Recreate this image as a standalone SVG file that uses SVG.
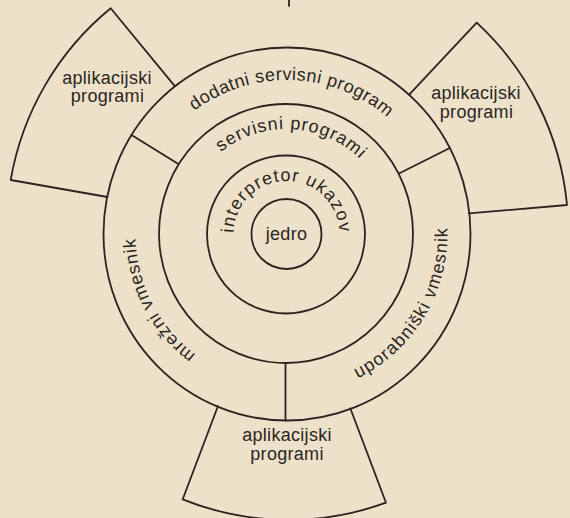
<svg xmlns="http://www.w3.org/2000/svg" width="570" height="518" viewBox="0 0 570 518">
  <style>
    .ln { fill: none; stroke: #2b2420; stroke-width: 1.8; stroke-linejoin: round; stroke-linecap: round; }
    .tx { font-family: "Liberation Sans", Arial, sans-serif; font-size: 18px; fill: #2b2622; }
    .c { text-anchor: middle; letter-spacing: 0.3px; }
  </style>
  <defs>
    <path id="p-dodatni" d="M153.63,157 A154,154 0 0 1 425.41,166.49"/>
    <path id="p-servisni" d="M198.44,176.82 A105,105 0 0 1 380.06,186.33"/>
    <path id="p-interp" d="M286.5,287 A53,53 0 1 1 286.5,181 A53,53 0 1 1 286.5,287"/>
    <path id="p-mrezni" d="M279.39,384.83 A151,151 0 0 1 159.43,152.43"/>
    <path id="p-uporab" d="M284.81,394.99 A161,161 0 0 0 426.76,154.96"/>
  </defs>
  <rect x="0" y="0" width="570" height="518" fill="#eee1c9"/>
  <line class="ln" x1="289" y1="0" x2="289" y2="6"/>

  <g id="box-left">
    <path class="ln" d="M174.8,86.1 L110.7,8.3 A284,284 0 0 0 10.7,180 L107.5,197"/>
    <text class="tx c" x="107" y="84">aplikacijski</text>
    <text class="tx c" x="107.5" y="102">programi</text>
  </g>
  <g id="box-right">
    <path class="ln" d="M409.2,94.7 L476.7,22.7 A284,284 0 0 1 567,205 L468.9,213.4"/>
    <text class="tx c" x="476" y="98.5">aplikacijski</text>
    <text class="tx c" x="476.5" y="117.5">programi</text>
  </g>
  <g id="box-bottom">
    <path class="ln" d="M217.9,406.2 L182.7,499.3 A284,284 0 0 0 386,502.7 L350.4,408.5"/>
    <text class="tx c" x="287" y="441">aplikacijski</text>
    <text class="tx c" x="287" y="460">programi</text>
  </g>

  <g id="ring-outer">
    <ellipse class="ln" cx="287" cy="234" rx="183.5" ry="186.5"/>
    <text class="tx" style="letter-spacing:0.5px"><textPath href="#p-dodatni" startOffset="50%" text-anchor="middle">dodatni servisni program</textPath></text>
    <text class="tx" style="letter-spacing:0.75px"><textPath href="#p-mrezni" startOffset="50%" text-anchor="middle">mrežni vmesnik</textPath></text>
    <text class="tx" style="letter-spacing:1.2px"><textPath href="#p-uporab" startOffset="50%" text-anchor="middle">uporabniški vmesnik</textPath></text>
  </g>
  <g id="ring-servisni">
    <ellipse class="ln" cx="286" cy="233.5" rx="127" ry="129.5"/>
    <text class="tx" style="letter-spacing:0.9px"><textPath href="#p-servisni" startOffset="50%" text-anchor="middle">servisni programi</textPath></text>
  </g>
  <g id="ring-interpretor">
    <circle class="ln" cx="286" cy="234.5" r="79"/>
    <text class="tx" style="letter-spacing:1.1px"><textPath href="#p-interp" startOffset="50%" text-anchor="middle">interpretor ukazov</textPath></text>
  </g>
  <g id="jedro">
    <circle class="ln" cx="286.5" cy="234" r="35"/>
    <text class="tx c" x="286.5" y="240">jedro</text>
  </g>

  <g id="dividers">
    <line class="ln" x1="131.5" y1="135" x2="178.4" y2="164.1"/>
    <line class="ln" x1="449.8" y1="148" x2="399" y2="173.5"/>
    <line class="ln" x1="285.5" y1="363" x2="285.5" y2="420.5"/>
  </g>
</svg>
